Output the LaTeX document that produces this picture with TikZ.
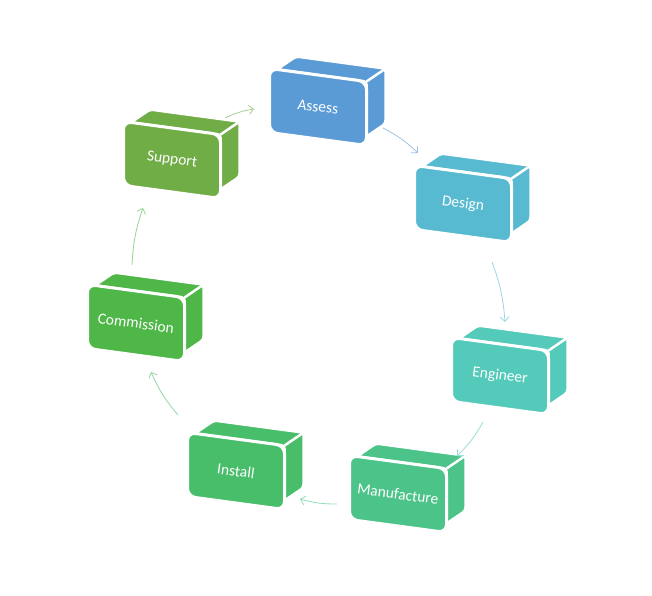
\documentclass[tikz,border=0pt]{standalone}
\usepackage{fontspec}
\setmainfont{Carlito}
\usetikzlibrary{arrows.meta}
\definecolor{cA}{HTML}{5B9BD5}
\definecolor{cD}{HTML}{57BAD0}
\definecolor{cE}{HTML}{54CABA}
\definecolor{cM}{HTML}{4CC489}
\definecolor{cI}{HTML}{48BE6A}
\definecolor{cC}{HTML}{4EB748}
\definecolor{cS}{HTML}{70AD47}
\tikzset{
  boxtext/.style={text=white, font=\fontsize{15.5}{18}\selectfont, rotate=-7.7, inner sep=0pt},
  arr/.style={line width=0.8pt, -{Straight Barb[length=4.5pt,width=9pt]}},
}
\newcommand\cubebox[5]{%
  \begin{scope}[shift={(#2,#3)}]
    \begin{scope}[yslant=-0.135]
      \filldraw[fill=#4, draw=white, line width=2.5pt, rounded corners=3pt]
        (-41,32) -- (-22,47.5) -- (67.5,47.5) -- (67.5,-7.5) -- (48.5,-23) -- (48.5,32) -- cycle;
      \draw[white, line width=2.5pt] (48.5,32) -- (67.5,47.5);
      \filldraw[fill=#4, draw=white, line width=3pt, rounded corners=8pt]
        (-48.5,-32) rectangle (48.5,32);
    \end{scope}
    \node[boxtext] (#1) at (0,0) {#5};
  \end{scope}}
\begin{document}
\begin{tikzpicture}[x=1pt,y=1pt]
  \useasboundingbox (0,0) rectangle (652,595);
  \cubebox{assess}{318}{488}{cA}{Assess}
  \cubebox{design}{463}{391}{cD}{Design}
  \cubebox{engineer}{500}{219}{cE}{Engineer}
  \cubebox{manufacture}{398}{101}{cM}{Manufacture}
  \cubebox{install}{236}{124}{cI}{Install}
  \cubebox{commission}{136}{272}{cC}{Commission}
  \cubebox{support}{172}{435}{cS}{Support}
  % arrow end points
  \coordinate (a1s) at (383,467); \coordinate (a1e) at (418,442);
  \coordinate (a2s) at (492,333); \coordinate (a2e) at (505,273);
  \coordinate (a3s) at (483,173); \coordinate (a3e) at (457,139);
  \coordinate (a4s) at (337,91);  \coordinate (a4e) at (300,96);
  \coordinate (a5s) at (178,180); \coordinate (a5e) at (151,223);
  \coordinate (a6s) at (132,330); \coordinate (a6e) at (143,387);
  \coordinate (a7s) at (225,477); \coordinate (a7e) at (254,486);
  \draw[arr, cA!60] (a1s) to[bend left=8] (a1e);
  \draw[arr, cD!60] (a2s) to[bend left=8] (a2e);
  \draw[arr, cE!60] (a3s) to[bend left=8] (a3e);
  \draw[arr, cM!60] (a4s) to[bend left=8] (a4e);
  \draw[arr, cI!60] (a5s) to[bend left=8] (a5e);
  \draw[arr, cC!60] (a6s) to[bend left=8] (a6e);
  \draw[arr, cS!60] (a7s) to[bend left=8] (a7e);
\end{tikzpicture}
\end{document}
